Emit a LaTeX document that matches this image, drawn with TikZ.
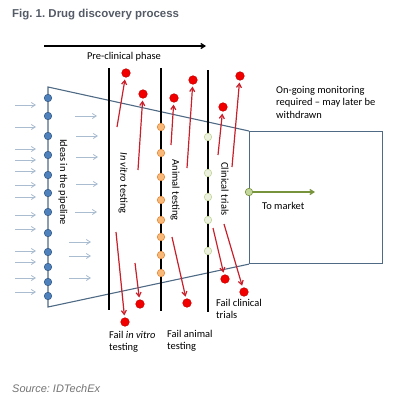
\documentclass[tikz,border=0pt]{standalone}
\usepackage{fontspec}
\setmainfont{Carlito}
\newfontfamily\arialfont{Liberation Sans}
\usepackage{xcolor}
\usetikzlibrary{arrows.meta,positioning}
\definecolor{funnelc}{HTML}{4F6A84}
\definecolor{feedc}{HTML}{A9BCD0}
\definecolor{failc}{HTML}{C8202A}
\definecolor{titlec}{HTML}{545B66}
\definecolor{marketc}{HTML}{77933C}
\frenchspacing

\begin{document}
\begin{tikzpicture}[x=1bp,y=-1bp,>={Straight Barb[length=4bp,width=5bp]},font=\fontsize{10.5}{12.5}\selectfont,
 dot/.style={circle,inner sep=0pt,minimum size=7.5bp,line width=0.6bp},
 ideadot/.style={dot,fill={rgb,255:red,79;green,129;blue,189},draw={rgb,255:red,56;green,93;blue,138}},
 animaldot/.style={dot,fill={rgb,255:red,248;green,184;blue,120},draw={rgb,255:red,224;green,138;blue,60}},
 clinicdot/.style={dot,fill={rgb,255:red,235;green,241;blue,222},draw={rgb,255:red,195;green,214;blue,155}},
 faildot/.style={dot,minimum size=8.5bp,fill=red!95!black,draw=red!80!black},
 failarrow/.style={->,failc,line width=1.2bp,shorten >=2bp},
 feed/.style={->,feedc,line width=0.8bp},
 phase/.style={black,line width=1.4bp},
 rot/.style={rotate=-90,inner sep=0pt}]
 \useasboundingbox (0,0) rectangle (394,400);
 \node[anchor=west,inner sep=0pt,font=\arialfont\bfseries\fontsize{11.5}{13}\selectfont,text=titlec] (title) at (12,15) {Fig. 1. Drug discovery process};
 \coordinate (pcs) at (44,46); \coordinate (pce) at (206,46);
 \draw[->,line width=1.3bp] (pcs) -- (pce); \node (pcl) at (124,57) {Pre-clinical phase};

 \node[draw=funnelc,line width=1.1bp,minimum width=133bp,minimum height=132bp,anchor=north west,inner sep=0pt] (market) at (249,131) {};
 \coordinate (ftl) at (48,87); \coordinate (fbl) at (48,307);
 \draw[funnelc,line width=1.1bp] (market.north west) -- (ftl) -- (fbl) -- (market.south west);

 \foreach \y in {105,127,149,160,171,185,197,215,229,251,262,278,292}{\draw[feed] (15,\y) -- (36,\y);}
 \foreach \x/\y in {75/116,76/136,76/157,76/184,75/212,69/242,69/256,69/278}{\draw[feed] (\x,\y) -- (\x+22,\y);}
 \foreach \y [count=\i] in {98,116,136,155,175,193,212,233,252,267,282,296}{\node[ideadot] (b\i) at (48,\y) {};}

 \draw[phase] (109,68) -- (109,310); \draw[phase] (161,68) -- (161,311); \draw[phase] (208,70) -- (208,312);
 \foreach \y [count=\i] in {127,153,177,200,220,237,255,273}{\node[animaldot] (o\i) at (161,\y) {};}
 \foreach \y [count=\i] in {137,173,197,220,251}{\node[clinicdot] (c\i) at (208,\y) {};}

 \node[rot] (ideas) at (63,182) {Ideas in the pipeline};
 \node[rot] (vitro) at (123,183) {\textit{In vitro} testing};
 \node[rot] (animal) at (175,190) {Animal testing};
 \node[rot] (clinic) at (225,189) {Clinical trials};

 \foreach \x/\y/\sx/\sy [count=\i] in {126/73/117/127,143/94/138/170,174/98/171/145,193/80/187/168,223/107/218/155,240/76/232/167}{
  \node[faildot] (u\i) at (\x,\y) {}; \coordinate (us\i) at (\sx,\sy); \draw[failarrow] (us\i) -- (u\i);}
 \foreach \x/\y/\sx/\sy [count=\i] in {125/322/116/232,140/304/135/263,187/303/172/237,225/279/213/228,244/292/224/224}{
  \node[faildot] (d\i) at (\x,\y) {}; \coordinate (ds\i) at (\sx,\sy); \draw[failarrow] (ds\i) -- (d\i);}

 \node[anchor=north west,align=left,inner sep=0pt] (fvitro) at (109,331) {Fail \textit{in vitro}\\testing};
 \node[anchor=north west,align=left,inner sep=0pt] (fanimal) at (167,330) {Fail animal\\testing};
 \node[anchor=north west,align=left,inner sep=0pt] (fclinic) at (216,299) {Fail clinical\\trials};

 \node[dot,fill={rgb,255:red,195;green,214;blue,155},draw=marketc] (mk) at (249,192) {};
 \coordinate (mkend) at (315,192); \draw[->,marketc,line width=1.3bp] (mk) -- (mkend);
 \node[anchor=west,inner sep=0pt] (tomarket) at (262,206) {To market};
 \node[anchor=north west,align=left,inner sep=0pt] (monitor) at (276,86) {On-going monitoring\\required -- may later be\\withdrawn};

 \node[anchor=west,inner sep=0pt,font=\arialfont\itshape\fontsize{11}{13}\selectfont,text=gray!90!black] (source) at (12,389) {Source: IDTechEx};
\end{tikzpicture}
\end{document}
